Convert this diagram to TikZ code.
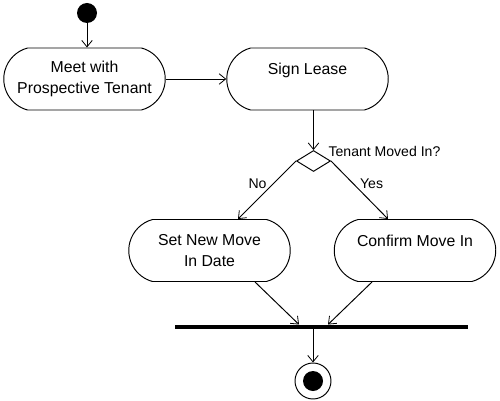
\documentclass[tikz,border=0pt]{standalone}
\usepackage{fontspec}
\setmainfont{Liberation Sans}
\usetikzlibrary{arrows.meta, calc, shapes.misc, shapes.geometric}

\begin{document}
\begin{tikzpicture}[>={Straight Barb[length=1.3mm, width=2.1mm, line width=0.45pt]}, line width=0.55pt,
  every node/.style={font=\fontsize{9}{11.5}\selectfont},
  activity/.style={draw, rounded rectangle, rounded rectangle arc length=150, align=center, minimum width=3.3cm, minimum height=1.24cm, inner sep=1pt},
  guard/.style={font=\fontsize{8}{10}\selectfont}]
  \useasboundingbox (0,0) rectangle (10,-8);
  \node[circle, fill=black, minimum size=0.4cm, inner sep=0pt] (start) at (1.74,-0.26) {};
  \node[activity] (meet) at (1.69,-1.58) {Meet with\\Prospective Tenant};
  \node[activity] (lease) at (6.15,-1.58) {Sign Lease\\\mbox{}};
  \node[draw, diamond, inner sep=0pt, minimum width=0.68cm, minimum height=0.42cm] (dec) at (6.27,-3.22) {};
  \node[activity] (newdate) at (4.19,-5.01) {Set New Move\\In Date};
  \node[activity] (confirm) at (8.30,-5.01) {Confirm Move In\\\mbox{}};
  \node[fill=black, inner sep=0pt, minimum width=5.86cm, minimum height=0.08cm] (join) at (6.43,-6.54) {};
  \node[draw, circle, minimum size=0.72cm, inner sep=0pt] (end) at (6.26,-7.62) {};
  \node[circle, fill=black, minimum size=0.4cm, inner sep=0pt] (endcore) at (end.center) {};

  \draw[->] (start) -- (start |- meet.north);
  \draw[->] (meet.east) -- (lease.west);
  \draw[->] (dec.north |- lease.south) -- (dec.north);
  \node[guard, anchor=west, yshift=0.08cm] (question) at (dec.north east) {Tenant Moved In?};
  \draw[->] (dec.west) -- ($(newdate.north)+(0.57,0)$) node[guard, pos=0.4, left] (no) {No};
  \draw[->] (dec.east) -- ($(confirm.north)+(-0.54,0)$) node[guard, pos=0.4, right] (yes) {Yes};
  \draw[->] ($(newdate.south)+(0.91,0)$) -- ($(join.north)+(-0.45,0)$);
  \draw[->] ($(confirm.south)+(-0.86,0)$) -- ($(join.north)+(0.13,0)$);
  \draw[->] (end.north |- join.south) -- (end.north);
\end{tikzpicture}
\end{document}
